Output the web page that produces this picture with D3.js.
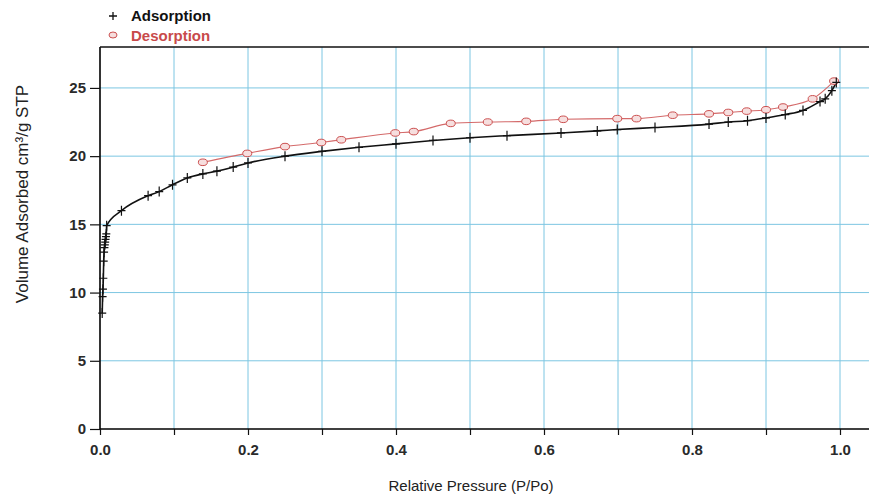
<!DOCTYPE html>
<html>
<head>
<meta charset="utf-8">
<script src="https://cdn.jsdelivr.net/npm/d3@7"></script>
<style>
  body { margin: 0; background: #fff; }
  text { font-family: "Liberation Sans", Arial, sans-serif; }
</style>
</head>
<body>
<div id="chart"></div>
<script>
// isotherm data
const adsX = [0.003, 0.0035, 0.004, 0.0045, 0.005, 0.0055, 0.006, 0.0065, 0.007, 0.0075, 0.008, 0.0085, 0.009,
  0.029, 0.065, 0.08, 0.098, 0.118, 0.139, 0.158, 0.18, 0.2, 0.25, 0.3, 0.35, 0.4, 0.45, 0.5, 0.55,
  0.623, 0.672, 0.699, 0.75, 0.823, 0.849, 0.875, 0.9, 0.926, 0.95, 0.973, 0.98, 0.989, 0.995];
const adsY = [8.5, 9.7, 10.25, 11.05, 12.3, 12.96, 13.3, 13.5, 13.7, 13.9, 14.1, 14.3, 14.9,
  16.0, 17.1, 17.4, 17.9, 18.4, 18.7, 18.9, 19.2, 19.5, 20.0, 20.35, 20.65, 20.9, 21.15, 21.35, 21.5,
  21.7, 21.85, 21.95, 22.1, 22.35, 22.5, 22.6, 22.8, 23.05, 23.35, 24.0, 24.2, 24.8, 25.4];

const desX = [0.139, 0.199, 0.25, 0.299, 0.326, 0.399, 0.424, 0.474, 0.524, 0.576, 0.626, 0.699, 0.725,
  0.774, 0.823, 0.849, 0.874, 0.9, 0.923, 0.963, 0.992];
const desY = [19.55, 20.2, 20.7, 21.0, 21.2, 21.7, 21.8, 22.4, 22.5, 22.55, 22.7, 22.75, 22.75,
  23.0, 23.1, 23.2, 23.3, 23.4, 23.6, 24.2, 25.5];

const xTicks = [0, 0.1, 0.2, 0.3, 0.4, 0.5, 0.6, 0.7, 0.8, 0.9, 1.0];
const yTicks = [0, 5, 10, 15, 20, 25];

const width = 869, height = 495;
const plotLeft = 100, plotTop = 47, plotRight = 869, plotBottom = 429;
const gridColor = "#7cc6e2";

const svg = d3.select("#chart").append("svg")
  .attr("width", width)
  .attr("height", height);

const x = d3.scaleLinear().domain([0, 1]).range([plotLeft, 840]);
const y = d3.scaleLinear().domain([0, 28]).range([plotBottom, plotTop]);

// grid
svg.append("g").selectAll("line")
  .data(xTicks.slice(1))
  .join("line")
    .attr("x1", d => x(d)).attr("x2", d => x(d))
    .attr("y1", plotTop).attr("y2", plotBottom)
    .attr("stroke", gridColor).attr("stroke-width", 1);

svg.append("g").selectAll("line")
  .data(yTicks.slice(1))
  .join("line")
    .attr("x1", plotLeft).attr("x2", plotRight)
    .attr("y1", d => y(d)).attr("y2", d => y(d))
    .attr("stroke", gridColor).attr("stroke-width", 1);

// axes
const xAxis = svg.append("g")
  .attr("transform", `translate(0,${plotBottom})`)
  .call(d3.axisBottom(x).tickValues(xTicks).tickSize(6).tickPadding(9)
    .tickFormat(d => (Math.round(d * 10) % 2 === 0) ? d3.format(".1f")(d) : ""));
xAxis.select(".domain").attr("d", `M${plotLeft},0H${plotRight}`).attr("stroke-width", 1.6);

const yAxis = svg.append("g")
  .attr("transform", `translate(${plotLeft},0)`)
  .call(d3.axisLeft(y).tickValues(yTicks).tickSize(10).tickPadding(4));
yAxis.select(".domain").attr("d", `M0,${plotBottom}V${plotTop}`).attr("stroke-width", 1.6);

svg.selectAll(".tick text")
  .attr("font-size", 15)
  .attr("font-weight", "bold")
  .attr("fill", "#2a2a2a")
  .style("font-family", "'Liberation Sans', Arial, sans-serif");
svg.selectAll(".tick line").attr("stroke", "#111").attr("stroke-width", 1.2);

// top border
svg.append("line")
  .attr("x1", plotLeft).attr("x2", plotRight)
  .attr("y1", plotTop).attr("y2", plotTop)
  .attr("stroke", "#111").attr("stroke-width", 1.6);

// axis titles
svg.append("text")
  .attr("x", 471).attr("y", 491)
  .attr("text-anchor", "middle")
  .attr("font-size", 15)
  .attr("fill", "#222")
  .text("Relative Pressure (P/Po)");

svg.append("text")
  .attr("transform", "translate(28,194) rotate(-90)")
  .attr("text-anchor", "middle")
  .attr("font-size", 17)
  .attr("fill", "#222")
  .text("Volume Adsorbed cm³/g STP");

// curves
const ads = adsX.map((v, i) => [v, adsY[i]]);
const des = desX.map((v, i) => [v, desY[i]]);

const line = d3.line()
  .x(d => x(d[0]))
  .y(d => y(d[1]))
  .curve(d3.curveMonotoneX);

svg.append("path")
  .datum(des)
  .attr("d", line)
  .attr("fill", "none")
  .attr("stroke", "#d46a6a")
  .attr("stroke-width", 1.1);

svg.append("path")
  .datum(ads)
  .attr("d", line)
  .attr("fill", "none")
  .attr("stroke", "#111")
  .attr("stroke-width", 1.6);

svg.append("g").selectAll("ellipse")
  .data(des)
  .join("ellipse")
    .attr("cx", d => x(d[0]))
    .attr("cy", d => y(d[1]))
    .attr("rx", 4.5).attr("ry", 3.3)
    .attr("fill", "#f6dede")
    .attr("stroke", "#cc5050")
    .attr("stroke-width", 1);

svg.append("g").selectAll("path")
  .data(ads)
  .join("path")
    .attr("transform", d => `translate(${x(d[0])},${y(d[1])})`)
    .attr("d", "M-4,0H4M0,-5V5")
    .attr("stroke", "#111")
    .attr("stroke-width", 1.2);

// legend
const legend = svg.append("g");
legend.append("path")
  .attr("d", "M109,16H117M113,12V20")
  .attr("stroke", "#111").attr("stroke-width", 1.3);
legend.append("text")
  .attr("x", 131).attr("y", 21)
  .attr("font-size", 15).attr("font-weight", "bold")
  .attr("fill", "#111")
  .text("Adsorption");
legend.append("ellipse")
  .attr("cx", 113).attr("cy", 35)
  .attr("rx", 4).attr("ry", 3)
  .attr("fill", "#f6dede").attr("stroke", "#cc5050");
legend.append("text")
  .attr("x", 131).attr("y", 41)
  .attr("font-size", 15).attr("font-weight", "bold")
  .attr("fill", "#c84a4a")
  .text("Desorption");
</script>
</body>
</html>
